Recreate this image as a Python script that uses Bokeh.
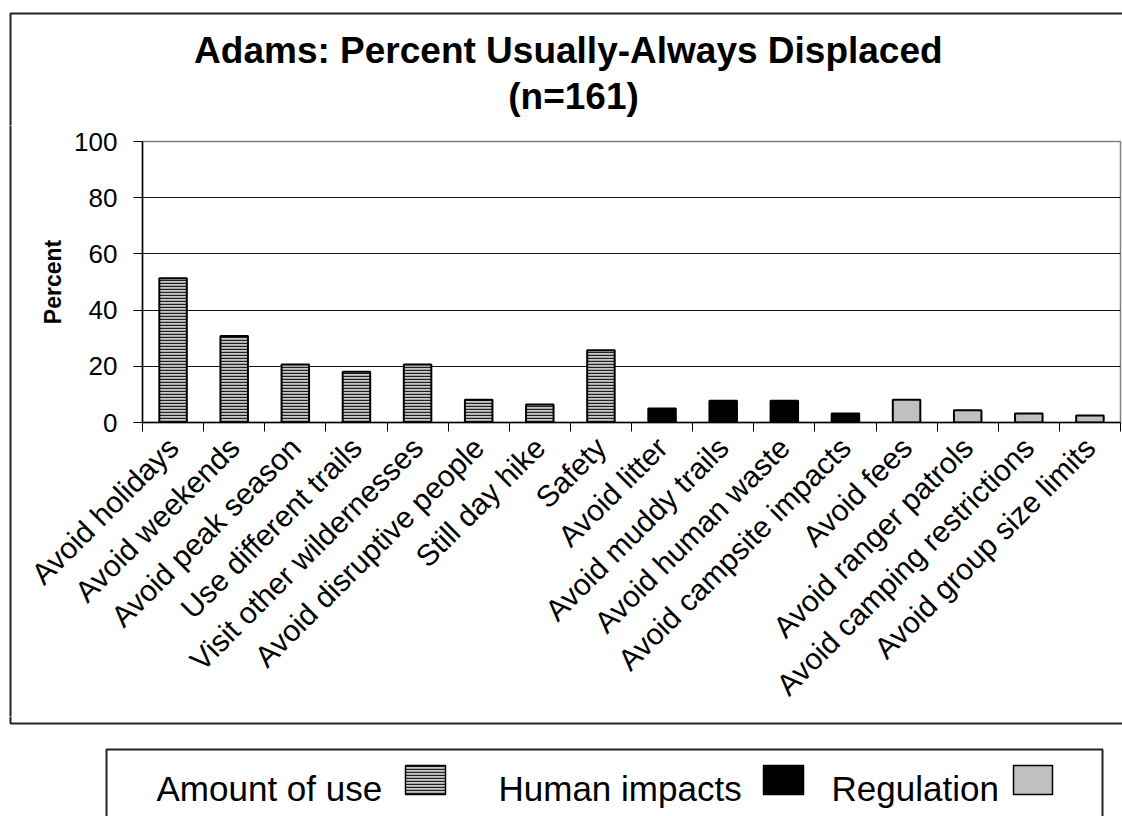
from math import pi
from bokeh.plotting import figure
from bokeh.layouts import column, row
from bokeh.models import (FactorRange, Range1d, LinearAxis,
                          FixedTicker, Label, BoxAnnotation, ColumnDataSource)
from bokeh.embed import file_html
from bokeh.resources import INLINE

# ---------------- data ----------------
categories = ["Avoid holidays", "Avoid weekends", "Avoid peak season",
              "Use different trails", "Visit other wildernesses",
              "Avoid disruptive people", "Still day hike", "Safety",
              "Avoid litter", "Avoid muddy trails", "Avoid human waste",
              "Avoid campsite impacts", "Avoid fees", "Avoid ranger patrols",
              "Avoid camping restrictions", "Avoid group size limits"]
groups = (["Amount of use"] * 8 + ["Human impacts"] * 4 + ["Regulation"] * 4)
percent = [51.3, 30.8, 20.6, 18.1, 20.6, 8.1, 6.4, 25.7,
           5.0, 7.7, 7.7, 3.2,
           8.1, 4.4, 3.2, 2.5]
group_names = ["Amount of use", "Human impacts", "Regulation"]
y_ticks = [0, 20, 40, 60, 80, 100]
title_lines = ["Adams:  Percent Usually-Always Displaced", "(n=161)"]
y_label = "Percent"

FONT = "Liberation Sans"
W = 1122
TOP_H = 125          # title strip: page y 0..125
MID_H = 716 - TOP_H  # chart strip: page y 125..716
BOT_H = 816 - 716    # legend strip: page y 716..816
LEFT_W = 14
BASE_SHIFT = 12      # label baseline correction (px)
BORDER = dict(line_color="#222222", line_width=2, line_alpha=1.0)


def blank(width, height, x0, x1, y0, y1):
    """figure whose frame is the full canvas, data units == page pixels"""
    f = figure(width=width, height=height, x_range=Range1d(x0, x1),
               y_range=Range1d(y1, y0), output_backend="svg",
               toolbar_location=None, x_axis_location=None,
               y_axis_location=None, min_border=0, title=None)
    f.frame_align = False
    f.grid.visible = False
    f.outline_line_color = None
    f.background_fill_color = "white"
    f.border_fill_color = "white"
    return f


def border_box(f, left, right, top, bottom):
    f.add_layout(BoxAnnotation(left=left, right=right, top=top, bottom=bottom,
                               fill_alpha=0, **BORDER))


styles = {
    "Amount of use": dict(fill_color="#c8c8c8", hatch_pattern="horizontal_line",
                          hatch_color="#202020", hatch_scale=3, hatch_weight=1.4),
    "Human impacts": dict(fill_color="#000000"),
    "Regulation": dict(fill_color="#c0c0c0"),
}

# ---------------- title strip ----------------
top = blank(W, TOP_H, 0, W, 0, TOP_H)
border_box(top, 10, 3000, 13, 3000)
for line, base in zip(title_lines, [62, 108]):
    top.add_layout(Label(x=573, y=base - BASE_SHIFT, text=line, text_align="center",
                         text_baseline="alphabetic", text_font=FONT,
                         text_font_style="bold", text_font_size="37px",
                         text_color="black"))

# ---------------- left strip (chart-area border) ----------------
left = blank(LEFT_W, MID_H, 0, LEFT_W, TOP_H, TOP_H + MID_H)
border_box(left, 10, 3000, -3000, 3000)

# ---------------- main chart ----------------
PW = W - LEFT_W
FL = 142 - LEFT_W           # frame left in p canvas
FR = 1120 - LEFT_W          # frame right
FT = 141 - TOP_H            # frame top
FB = 423 - TOP_H            # frame bottom

p = figure(width=PW, height=MID_H,
           x_range=FactorRange(factors=categories, range_padding=0),
           y_range=Range1d(0, 100),
           output_backend="svg", toolbar_location=None,
           x_axis_location=None, y_axis_location="left",
           min_border_left=FL, min_border_top=FT,
           min_border_right=PW - FR, min_border_bottom=MID_H - FB,
           title=None)
p.frame_align = False
p.background_fill_color = "white"
p.border_fill_color = "white"
p.outline_line_color = "#808080"
p.outline_line_width = 1.5

for g in p.grid:
    if g.dimension == 0:
        g.visible = False
    else:
        g.ticker = FixedTicker(ticks=y_ticks[1:-1])
        g.grid_line_color = "#111111"
        g.grid_line_width = 1

yax = p.yaxis[0]
yax.ticker = FixedTicker(ticks=y_ticks)
yax.major_tick_out = 9
yax.major_tick_in = 0
yax.minor_tick_out = 0
yax.minor_tick_in = 0
yax.axis_line_color = "black"
yax.axis_line_width = 1.5
yax.major_tick_line_color = "black"
yax.major_label_standoff = 16
yax.major_label_text_font = FONT
yax.major_label_text_font_size = "26px"
yax.major_label_text_color = "black"
yax.axis_label = y_label
yax.axis_label_text_font = FONT
yax.axis_label_text_font_style = "bold"
yax.axis_label_text_font_size = "23px"
yax.axis_label_text_color = "black"
yax.axis_label_standoff = 5

for gname in group_names:
    cats = [c for c, g in zip(categories, groups) if g == gname]
    vals = [v for v, g in zip(percent, groups) if g == gname]
    src = ColumnDataSource(dict(cat=cats, pct=vals))
    p.vbar(x="cat", top="pct", width=0.45, bottom=0, source=src,
           line_color="black", line_width=2, **styles[gname])

# x axis: labels at category centres, tick marks between categories
centres = [i + 0.5 for i in range(len(categories))]
boundaries = list(range(len(categories) + 1))
xax = LinearAxis(ticker=FixedTicker(ticks=centres, minor_ticks=boundaries),
                 major_label_overrides={c: name for c, name in zip(centres, categories)},
                 major_tick_out=0, major_tick_in=0,
                 minor_tick_out=9, minor_tick_in=0,
                 minor_tick_line_color="black",
                 axis_line_color="black", axis_line_width=1.5,
                 major_label_orientation=pi / 4,
                 major_label_standoff=11,
                 major_label_text_font=FONT,
                 major_label_text_font_size="30px",
                 major_label_text_color="black")
p.add_layout(xax, "below")

# ---------------- legend strip ----------------
bot = blank(W, BOT_H, 0, W, 716, 816)
border_box(bot, 10, 3000, -3000, 723)          # chart-area border (left + bottom)
border_box(bot, 106, 1102, 749, 3000)          # legend box
leg_text_x = [156, 498, 831]
leg_sw_x = [(405, 445), (763, 803), (1013, 1052)]
for gname, tx, (s0, s1) in zip(group_names, leg_text_x, leg_sw_x):
    bot.add_layout(Label(x=tx, y=800 - BASE_SHIFT, text=gname, text_align="left",
                         text_baseline="alphabetic", text_font=FONT,
                         text_font_size="35px", text_color="black"))
    bot.add_layout(BoxAnnotation(left=s0, right=s1, top=765, bottom=794,
                                 line_color="black", line_width=1.5, line_alpha=1.0,
                                 fill_alpha=1.0, **styles[gname]))

layout = column(top, row(left, p), bot)
open("out.html", "w").write(file_html(layout, INLINE))
